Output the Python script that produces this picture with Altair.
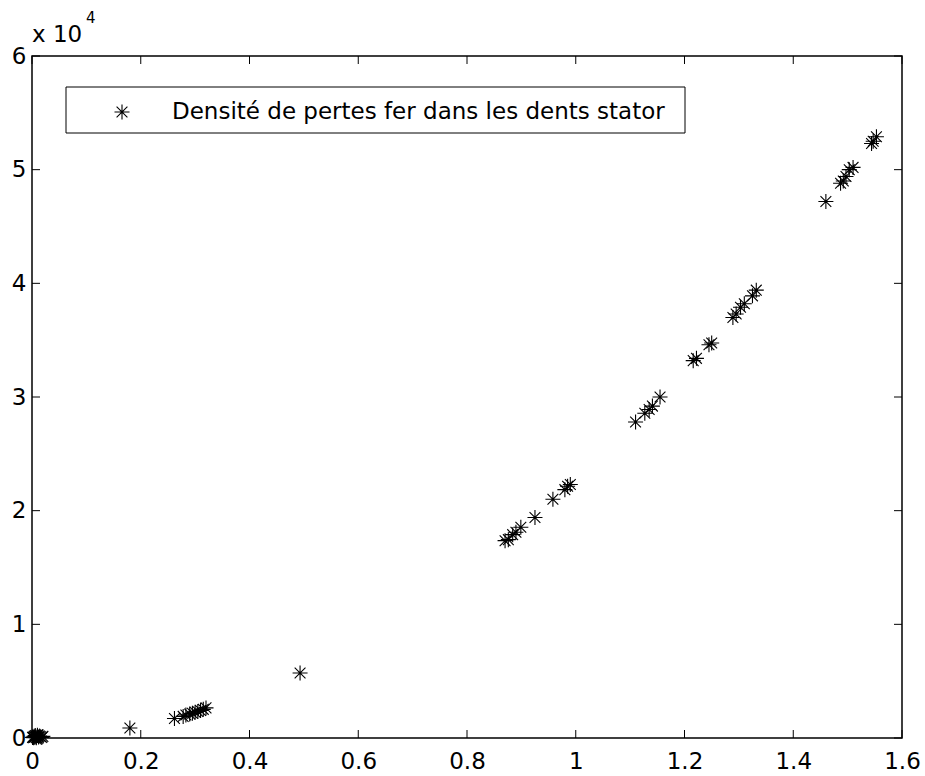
import altair as alt
import pandas as pd

# data
x_vals = [0.001, 0.002, 0.003, 0.004, 0.005, 0.006, 0.007, 0.008, 0.010, 0.012, 0.014, 0.016, 0.018, 0.020,
          0.180,
          0.262, 0.278, 0.283, 0.290, 0.295, 0.300, 0.305, 0.310, 0.315, 0.320,
          0.493,
          0.870, 0.876, 0.884, 0.890, 0.899, 0.925, 0.958, 0.980, 0.985, 0.990,
          1.110, 1.127, 1.135, 1.141, 1.155,
          1.216, 1.222, 1.245, 1.250,
          1.289, 1.295, 1.303, 1.310, 1.325, 1.332,
          1.460, 1.487, 1.492, 1.497, 1.503, 1.510,
          1.544, 1.547, 1.553]
y_vals = [40, 90, 20, 160, 60, 210, 120, 30, 250, 80, 180, 110, 50, 140,
          880,
          1720, 1900, 2020, 2110, 2170, 2260, 2330, 2420, 2520, 2650,
          5720,
          17360, 17450, 17890, 18100, 18540, 19400, 21000, 21850, 22150, 22300,
          27800, 28570, 28900, 29200, 30000,
          33200, 33400, 34600, 34750,
          37000, 37300, 37900, 38200, 38900, 39400,
          47200, 48800, 49000, 49400, 50000, 50200,
          52300, 52500, 52900]
x_ticks = [0, 0.2, 0.4, 0.6, 0.8, 1.0, 1.2, 1.4, 1.6]
y_ticks = [0, 10000, 20000, 30000, 40000, 50000, 60000]
legend_label = ["Densité de pertes fer dans les dents stator"]
exp_base = ["x 10"]
exp_power = ["4"]

W, H = 870, 682
FONT = "DejaVu Sans"
FS = 23
TICK = 8
star = "M-1,0L1,0M0,-1L0,1M-0.72,-0.72L0.72,0.72M-0.72,0.72L0.72,-0.72"

df = pd.DataFrame({"x": x_vals, "y": y_vals})
xs = alt.Scale(domain=[0, 1.6], nice=False, zero=False)
ys = alt.Scale(domain=[0, 60000], nice=False, zero=False)
xaxis = alt.Axis(
    values=x_ticks, format="~g", title=None, domain=False, ticks=False, grid=False,
    labelFont=FONT, labelFontSize=FS, labelColor="black", labelPadding=12,
    labelFlush=False, labelOverlap=False)
yaxis = alt.Axis(
    values=y_ticks, labelExpr="datum.value / 10000", title=None, domain=False, ticks=False,
    grid=False, labelFont=FONT, labelFontSize=FS, labelColor="black", labelPadding=6,
    labelFlush=False, labelOverlap=False)

points = alt.Chart(df).mark_point(
    shape=star, filled=False, size=225, stroke="black", strokeWidth=1.1, opacity=1, clip=False
).encode(
    x=alt.X("x:Q", scale=xs, axis=xaxis),
    y=alt.Y("y:Q", scale=ys, axis=yaxis),
)

xt = pd.DataFrame({"t": x_ticks})
yt = pd.DataFrame({"t": y_ticks})
xb = alt.Chart(xt).mark_rule(color="black", strokeWidth=1).encode(
    x=alt.X("t:Q", scale=xs, axis=xaxis), y=alt.value(H), y2=alt.value(H - TICK))
xtop = alt.Chart(xt).mark_rule(color="black", strokeWidth=1).encode(
    x=alt.X("t:Q", scale=xs, axis=xaxis), y=alt.value(0), y2=alt.value(TICK))
yl = alt.Chart(yt).mark_rule(color="black", strokeWidth=1).encode(
    y=alt.Y("t:Q", scale=ys, axis=yaxis), x=alt.value(0), x2=alt.value(TICK))
yr = alt.Chart(yt).mark_rule(color="black", strokeWidth=1).encode(
    y=alt.Y("t:Q", scale=ys, axis=yaxis), x=alt.value(W), x2=alt.value(W - TICK))

ldf = pd.DataFrame({"label": legend_label})
lbox = alt.Chart(ldf).mark_rect(fill="white", stroke="black", strokeWidth=1).encode(
    x=alt.value(34), x2=alt.value(653), y=alt.value(31), y2=alt.value(77))
lmark = alt.Chart(ldf).mark_point(
    shape=star, filled=False, size=225, stroke="black", strokeWidth=1.1, opacity=1
).encode(x=alt.value(90), y=alt.value(56))
ltext = alt.Chart(ldf).mark_text(
    align="left", baseline="middle", font=FONT, fontSize=FS, color="black"
).encode(x=alt.value(140), y=alt.value(56), text="label:N")

e1 = alt.Chart(pd.DataFrame({"t": exp_base})).mark_text(
    align="left", baseline="alphabetic", font=FONT, fontSize=FS, color="black"
).encode(x=alt.value(0), y=alt.value(-14), text="t:N")
e2 = alt.Chart(pd.DataFrame({"t": exp_power})).mark_text(
    align="left", baseline="alphabetic", font=FONT, fontSize=15, color="black"
).encode(x=alt.value(54), y=alt.value(-33), text="t:N")

chart = alt.layer(points, xb, xtop, yl, yr, lbox, lmark, ltext, e1, e2).properties(
    width=W, height=H,
    autosize=alt.AutoSizeParams(type="none"),
    padding={"left": 32, "top": 56, "right": 23, "bottom": 38},
    background="white",
).configure_view(stroke="black", strokeWidth=1.5)

chart.save("out.html", embed_options={"renderer": "svg", "actions": False})
